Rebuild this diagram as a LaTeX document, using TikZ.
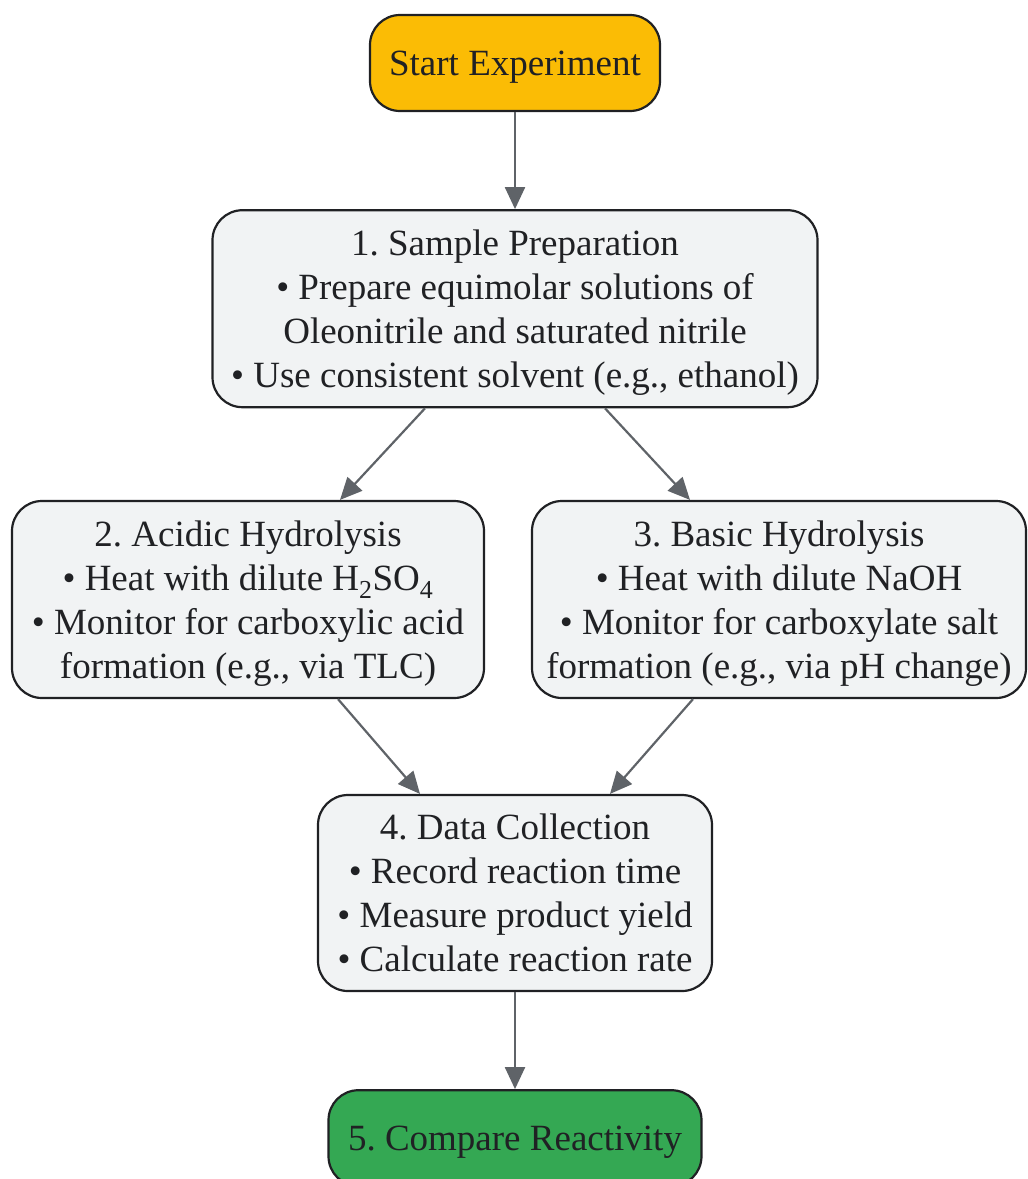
\documentclass[tikz,border=0pt]{standalone}
\usepackage{fontspec}
\setmainfont{Liberation Serif}
\usepackage{tikz}
\usetikzlibrary{positioning}
\usetikzlibrary{arrows.meta}
\frenchspacing
\definecolor{startyellow}{HTML}{FBBC05}
\definecolor{endgreen}{HTML}{34A853}
\definecolor{boxgray}{HTML}{F1F3F4}
\definecolor{edgegray}{HTML}{5F6368}
\definecolor{inkdark}{HTML}{202124}
\tikzset {
  node distance={97pt},
  % rounded boxes of the flow
  stage/.style = {draw=inkdark, line width=2.2pt, rounded corners=30pt, fill=boxgray,
    text=inkdark, align=center, inner sep=0pt, text depth=0pt,
    font=\fontsize{37}{44}\selectfont},
  % first and last boxes
  begin/.style={stage, fill=startyellow, minimum height=96pt},
  finish/.style={stage, fill=endgreen, minimum height=96pt},
  % connectors
  flow/.style={edgegray, line width=2.2pt, -{Triangle[length=22pt,width=20pt]}},
}
\begin{document}
\begin{tikzpicture}[x=1pt, y=-1pt]
      \useasboundingbox (0,0) rectangle (1028,1179);

      \node[begin, minimum width=290pt] (start) at (515,63) {Start Experiment};

      \node[stage, minimum width=605pt, minimum height=197pt] (prep) [below=of start]
        {1. Sample Preparation\\ • Prepare equimolar solutions of\\ Oleonitrile and saturated nitrile\\ • Use consistent solvent (e.g., ethanol)};

      \node[stage, minimum width=472pt, minimum height=197pt] (acid) at (248,599.5)
        {2. Acidic Hydrolysis\\ • Heat with dilute H\textsubscript{2}SO\textsubscript{4}\\ • Monitor for carboxylic acid\\ formation (e.g., via TLC)};

      \node[stage, minimum width=494pt, minimum height=197pt] (base) at (779,599.5)
        {3. Basic Hydrolysis\\ • Heat with dilute NaOH\\ • Monitor for carboxylate salt\\ formation (e.g., via pH change)};

      \node[stage, minimum width=394pt, minimum height=196pt] (data) at (515,893)
        {4. Data Collection\\ • Record reaction time\\ • Measure product yield\\ • Calculate reaction rate};

      \node[finish, minimum width=373pt] (compare) [below=of data] {5. Compare Reactivity};

      \draw[flow] (start) -- (prep);
      \draw[flow] ([xshift=-90pt]prep.south) -- ([xshift=92pt]acid.north);
      \draw[flow] ([xshift=90pt]prep.south) -- ([xshift=-89pt]base.north);
      \draw[flow] ([xshift=90pt]acid.south) -- ([xshift=-95pt]data.north);
      \draw[flow] ([xshift=-86pt]base.south) -- ([xshift=95pt]data.north);
      \draw[flow] (data) -- (compare);
    \end{tikzpicture}
\end{document}
